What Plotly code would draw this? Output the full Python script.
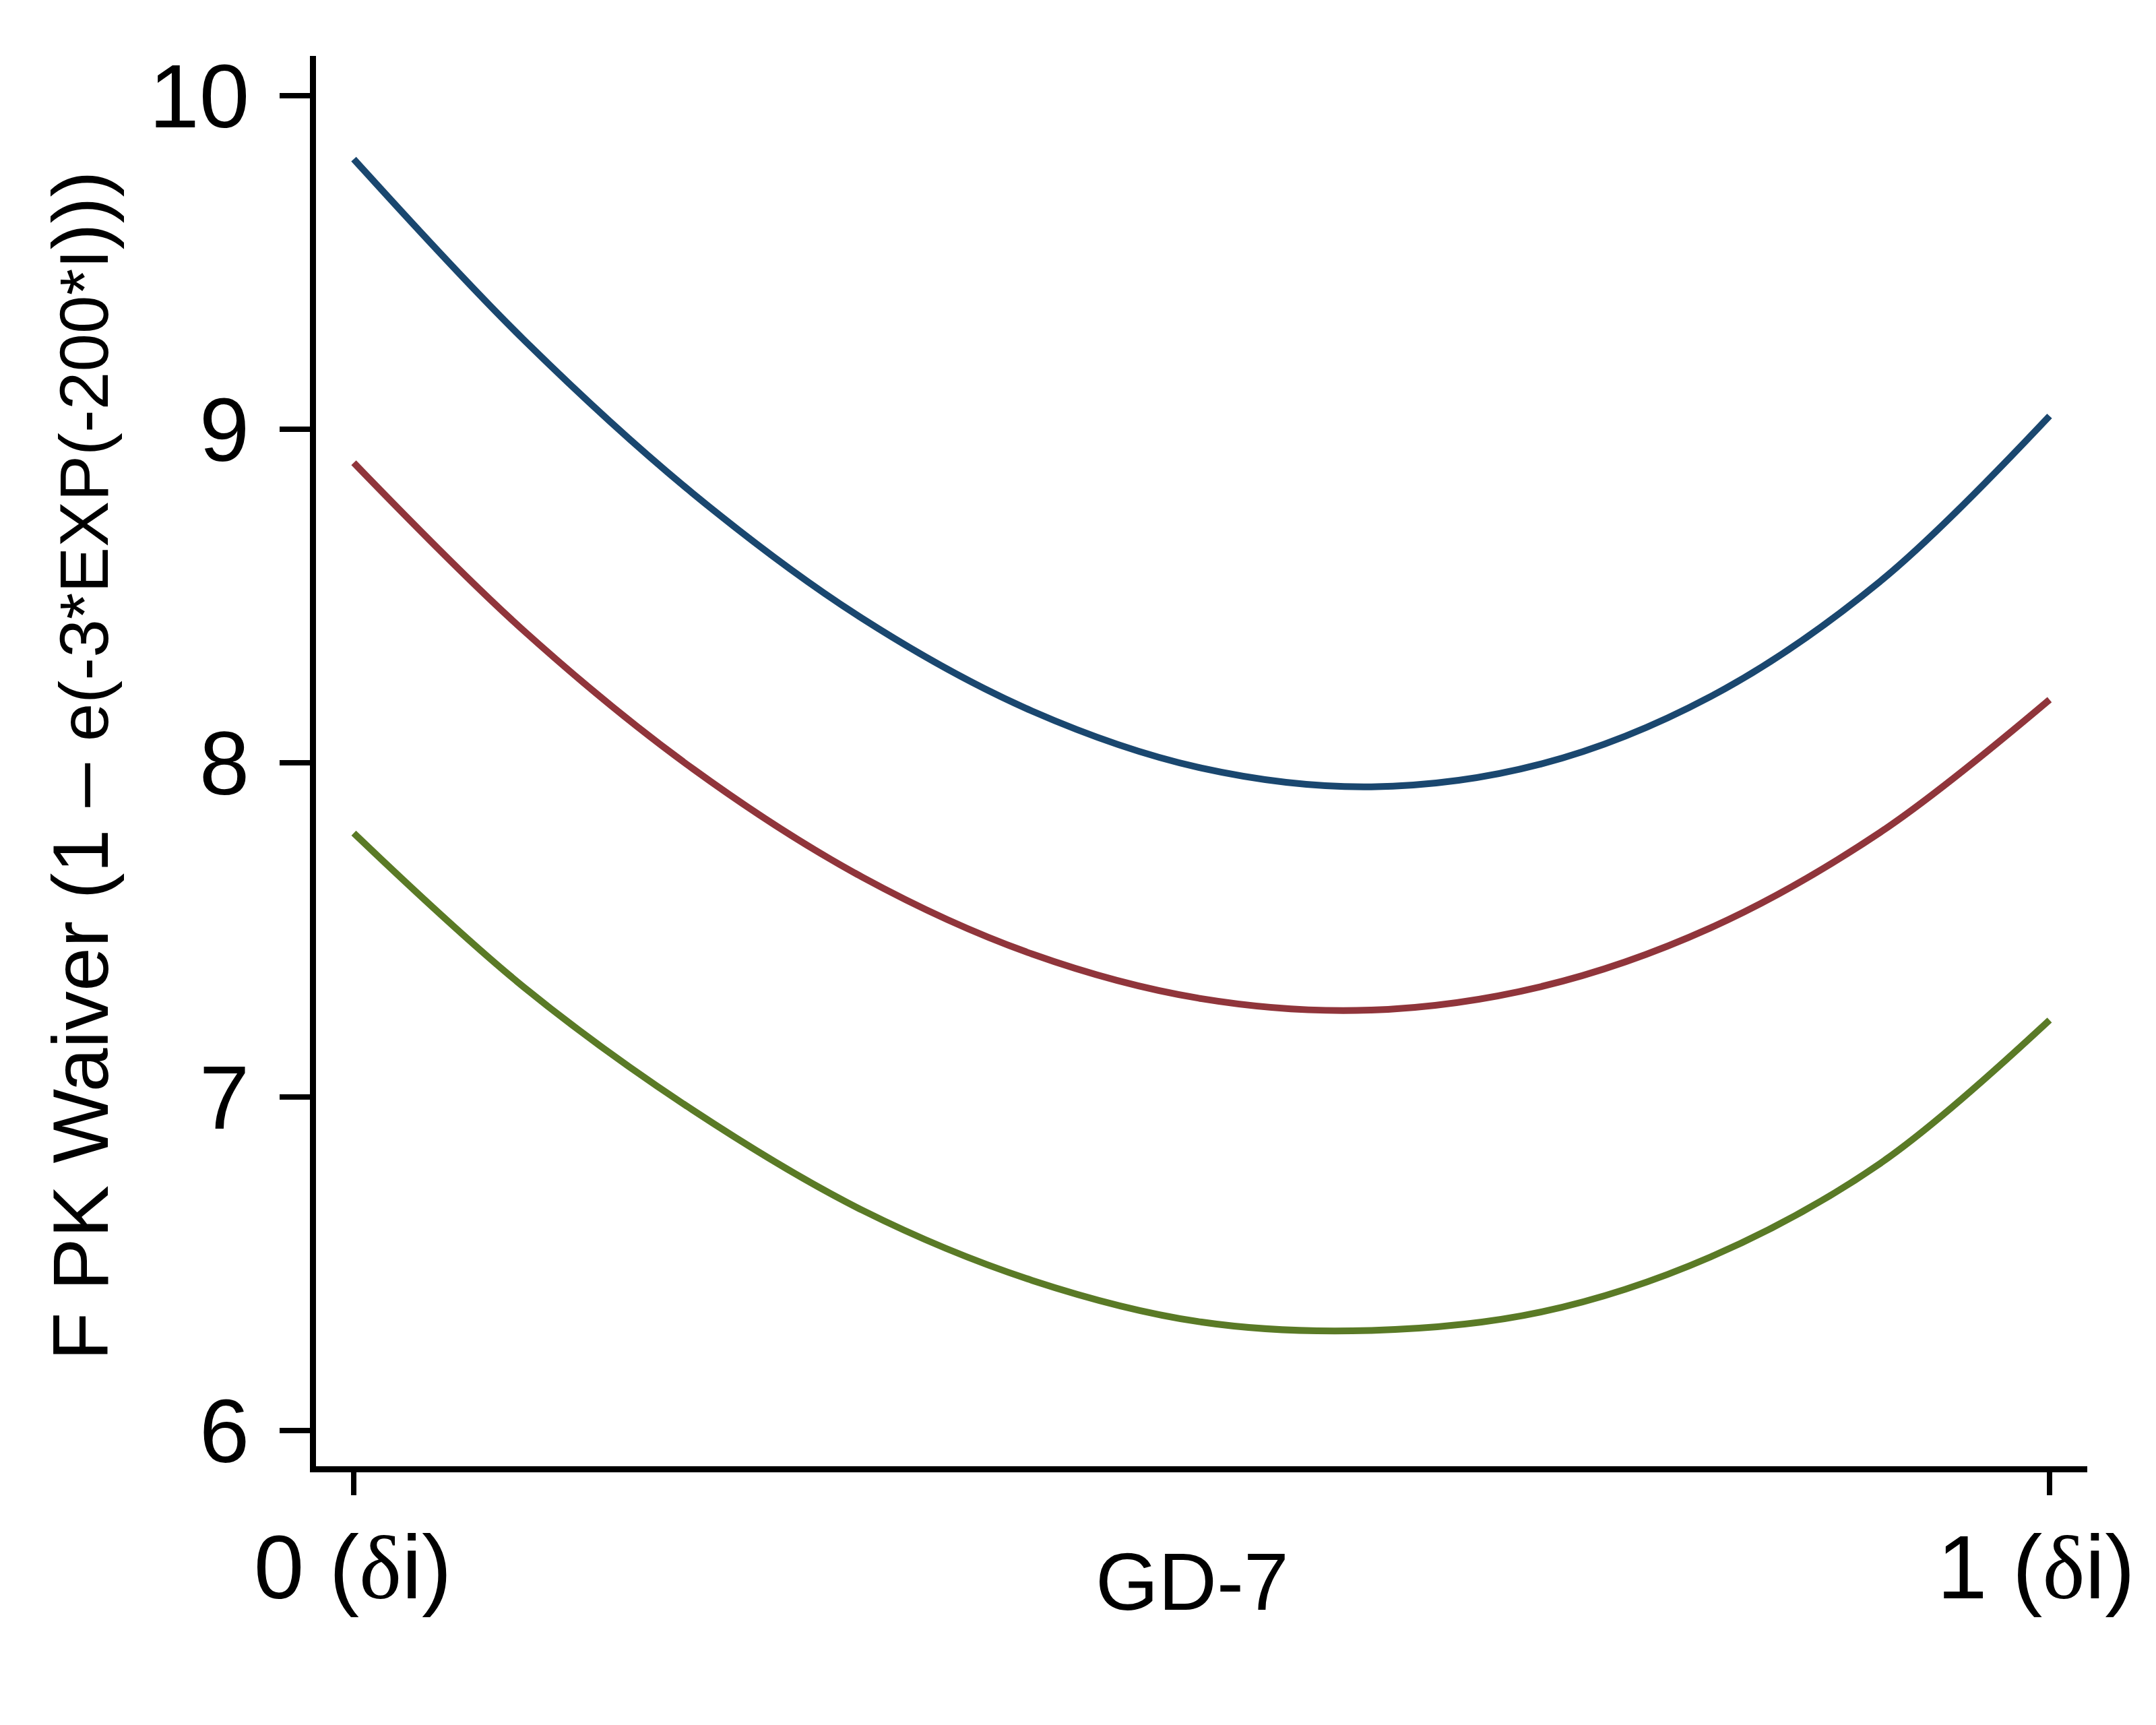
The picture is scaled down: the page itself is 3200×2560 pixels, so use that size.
import plotly.graph_objects as go

# ---- data ----
gd7 = [0.0, 0.1, 0.2, 0.3, 0.4, 0.5, 0.6, 0.7, 0.8, 0.9, 1.0]
series_top = [9.81, 9.27, 8.808, 8.433, 8.156, 7.985, 7.929, 7.997, 8.199, 8.544, 9.04]
series_mid = [8.90, 8.398, 7.983, 7.658, 7.428, 7.294, 7.260, 7.330, 7.506, 7.792, 8.19]
series_low = [7.79, 7.33, 6.96, 6.66, 6.45, 6.325, 6.30, 6.355, 6.52, 6.80, 7.23]
series_names = ["upper", "middle", "lower"]
series_colors = ["#1a476f", "#90353b", "#5a7a26"]

DELTA = "<span style=\"font-family:'Liberation Serif'\">δ</span>"
x_tickvals = [0, 1]
x_ticktext = ["&nbsp;0 (" + DELTA + "i)", "1 (" + DELTA + "i)"]
y_tickvals = [6, 7, 8, 9, 10]
y_ticktext = ["6", "7", "8", "9", "10"]

x_title = "GD-7"
y_title = ("F PK Waiver (1 – <span style=\"font-size:87%\">e(-3*EXP(-200*I</span>)))")

FONT = "Arial, 'Liberation Sans', sans-serif"

fig = go.Figure()
for ys, name, col in zip([series_top, series_mid, series_low], series_names, series_colors):
    fig.add_trace(go.Scatter(x=gd7, y=ys, mode="lines", name=name,
                             line=dict(color=col, width=10, shape="spline", smoothing=1.0),
                             showlegend=False))

fig.update_layout(
    width=3200, height=2560,
    paper_bgcolor="white", plot_bgcolor="white",
    margin=dict(l=469, r=102, t=83, b=384),
    font=dict(family=FONT, color="black"),
)
fig.update_xaxes(
    range=[-0.02225, 1.02225], showgrid=False, zeroline=False, automargin=False,
    showline=True, linecolor="black", linewidth=9,
    ticks="outside", ticklen=34, tickwidth=8, tickcolor="black",
    tickvals=x_tickvals, ticktext=x_ticktext, ticklabeloverflow="allow",
    ticklabelshift=-20,
    tickfont=dict(size=134, family=FONT), ticklabelstandoff=-8,
)
fig.update_yaxes(
    range=[5.893, 10.119], showgrid=False, zeroline=False, automargin=False,
    showline=True, linecolor="black", linewidth=9,
    ticks="outside", ticklen=45, tickwidth=8, tickcolor="black",
    tickvals=y_tickvals, ticktext=y_ticktext,
    tickfont=dict(size=134, family=FONT), ticklabelstandoff=18,
)
fig.add_annotation(text=x_title, xref="paper", yref="paper", x=0.4945, y=-0.0815,
                   xanchor="center", yanchor="middle", showarrow=False,
                   font=dict(size=120, family=FONT, color="black"))
fig.add_annotation(text=y_title, xref="paper", yref="paper", x=-0.133, y=0.497,
                   xanchor="center", yanchor="middle", showarrow=False, textangle=-90,
                   font=dict(size=117, family=FONT, color="black"))

fig.write_html("out.html")
